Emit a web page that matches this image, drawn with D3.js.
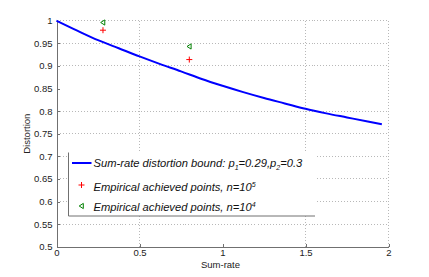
<!doctype html>
<html>
<head>
<style>
  body { margin: 0; background: white; }
  svg { display: block; font-family: "Liberation Sans", Arial, sans-serif; }
  .axis path, .axis line { stroke: #707070; shape-rendering: crispEdges; }
  .axis text { font-size: 9.5px; fill: #222; }
  .grid line { stroke: #b8b8b8; stroke-dasharray: 1,2; shape-rendering: crispEdges; }
  .legend text { font-size: 11.2px; font-style: italic; fill: #111; }
</style>
<script src="https://d3js.org/d3.v7.min.js"></script>
</head>
<body>
<script>
// curve
var boundRate = [0, 0.125, 0.25, 0.375, 0.5, 0.625, 0.75, 0.875, 1, 1.125, 1.25, 1.375, 1.5, 1.625, 1.75, 1.875, 1.96];
var boundDist = [1, 0.978, 0.957, 0.939, 0.921, 0.904, 0.888, 0.871, 0.856, 0.842, 0.829, 0.817, 0.805, 0.795, 0.786, 0.777, 0.771];

// empirical points
var ptsRate = [0.28, 0.8];
var pts5 = [0.979, 0.914];   // n=10^5
var pts4 = [0.996, 0.943];   // n=10^4

var xTicks = [0, 0.5, 1, 1.5, 2];
var yTicks = [0.5, 0.55, 0.6, 0.65, 0.7, 0.75, 0.8, 0.85, 0.9, 0.95, 1];
// grid lines that show in the picture
var xGrid = [0.5, 1.5, 2];
var yGrid = [0.55, 0.6, 0.65, 0.7, 0.75, 0.8, 0.9, 0.95, 1];

var W = 429, H = 277;
var margin = { top: 20.7, left: 56.5 };
var width = 332, height = 226;

var svg = d3.select('body').append('svg')
  .attr('width', W)
  .attr('height', H);

var g = svg.append('g')
  .attr('transform', `translate(${margin.left}, ${margin.top})`);

var xScale = d3.scaleLinear().domain([0, 2]).range([0, width]);
var yScale = d3.scaleLinear().domain([0.5, 1]).range([height, 0]);

// grid
g.append('g').attr('class', 'grid')
  .selectAll('line').data(xGrid).enter().append('line')
  .attr('x1', d => xScale(d)).attr('x2', d => xScale(d))
  .attr('y1', 0).attr('y2', height);

g.append('g').attr('class', 'grid')
  .selectAll('line').data(yGrid).enter().append('line')
  .attr('x1', 0).attr('x2', width)
  .attr('y1', d => yScale(d)).attr('y2', d => yScale(d));

// axes
g.append('g').attr('class', 'axis')
  .attr('transform', `translate(0, ${height})`)
  .call(d3.axisBottom(xScale).tickValues(xTicks).tickFormat(d3.format('')).tickSizeInner(-3).tickSizeOuter(0).tickPadding(3));

g.append('g').attr('class', 'axis')
  .call(d3.axisLeft(yScale).tickValues(yTicks).tickFormat(d3.format('')).tickSizeInner(-3).tickSizeOuter(0).tickPadding(4));

// bound curve
var line = d3.line()
  .x(d => xScale(d[0]))
  .y(d => yScale(d[1]))
  .curve(d3.curveMonotoneX);

g.append('path')
  .datum(boundRate.map((r, i) => [r, boundDist[i]]))
  .attr('d', line)
  .attr('fill', 'none')
  .attr('stroke', '#0000ff')
  .attr('stroke-width', 2);

// markers
function plus(sel, color) {
  sel.append('path')
    .attr('d', 'M-3,0H3M0,-3V3')
    .attr('stroke', color)
    .attr('stroke-width', 1)
    .attr('fill', 'none');
}
function triLeft(sel, color) {
  sel.append('path')
    .attr('d', 'M-2.3,0L1.8,-2.6L1.8,2.6Z')
    .attr('stroke', color)
    .attr('stroke-width', 1)
    .attr('fill', 'none');
}

g.selectAll('.p5').data(ptsRate).enter().append('g')
  .attr('class', 'p5')
  .attr('transform', (d, i) => `translate(${xScale(d)}, ${yScale(pts5[i])})`)
  .call(plus, '#ff0000');

g.selectAll('.p4').data(ptsRate).enter().append('g')
  .attr('class', 'p4')
  .attr('transform', (d, i) => `translate(${xScale(d)}, ${yScale(pts4[i])})`)
  .call(triLeft, '#008000');

// axis labels
svg.append('text')
  .text('Sum-rate')
  .attr('x', margin.left + width / 2 - 2)
  .attr('y', 268)
  .attr('text-anchor', 'middle')
  .style('font-size', '9.5px')
  .style('fill', '#222');

svg.append('text')
  .text('Distortion')
  .attr('transform', `translate(30, ${margin.top + height / 2}) rotate(-90)`)
  .attr('text-anchor', 'middle')
  .style('font-size', '9.5px')
  .style('fill', '#222');

// legend
var lg = svg.append('g').attr('class', 'legend');
var lx = 68.5, ly = 152.5, lw = 246.5, lh = 63.5;

lg.append('rect')
  .attr('x', lx).attr('y', ly).attr('width', lw).attr('height', lh)
  .attr('fill', 'white');
lg.append('path')
  .attr('d', `M${lx},${ly}V${ly + lh}H${lx + lw}`)
  .attr('fill', 'none')
  .attr('stroke', '#707070')
  .attr('stroke-width', 1);

lg.append('line')
  .attr('x1', 72).attr('x2', 91.5).attr('y1', 163).attr('y2', 163)
  .attr('stroke', '#0000ff').attr('stroke-width', 2);

lg.append('g').attr('transform', 'translate(81.5, 185)').call(plus, '#ff0000');
lg.append('g').attr('transform', 'translate(81.5, 206)').call(triLeft, '#008000');

var t1 = lg.append('text').attr('x', 93.5).attr('y', 166.5);
t1.append('tspan').text('Sum-rate distortion bound: p');
t1.append('tspan').text('1').attr('dy', 3).style('font-size', '7px');
t1.append('tspan').text('=0.29,p').attr('dy', -3);
t1.append('tspan').text('2').attr('dy', 3).style('font-size', '7px');
t1.append('tspan').text('=0.3').attr('dy', -3);

var t2 = lg.append('text').attr('x', 93.5).attr('y', 190.5);
t2.append('tspan').text('Empirical achieved points, n=10');
t2.append('tspan').text('5').attr('dy', -4).style('font-size', '7px');

var t3 = lg.append('text').attr('x', 93.5).attr('y', 210.5);
t3.append('tspan').text('Empirical achieved points, n=10');
t3.append('tspan').text('4').attr('dy', -4).style('font-size', '7px');
</script>
</body>
</html>
